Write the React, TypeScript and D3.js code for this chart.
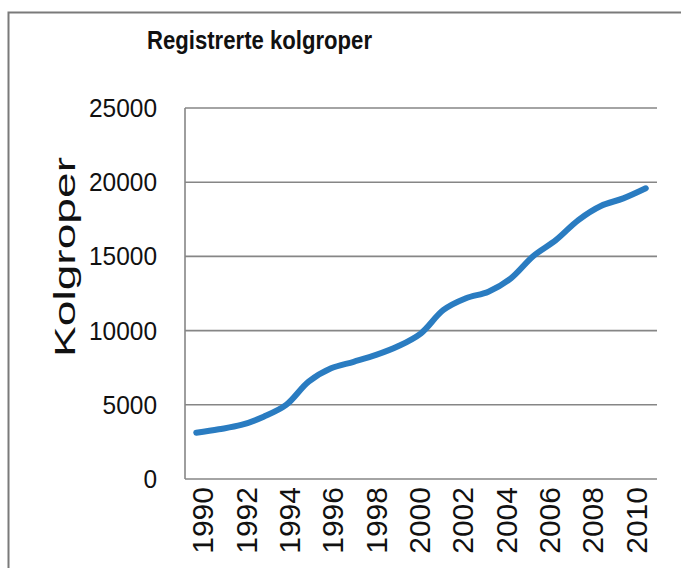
import React from "react";
import * as d3 from "d3";

const years: number[] = [
  1990, 1991, 1992, 1993, 1994, 1995, 1996, 1997, 1998, 1999, 2000,
  2001, 2002, 2003, 2004, 2005, 2006, 2007, 2008, 2009, 2010,
];
const kolgroper: number[] = [
  3120, 3350, 3640, 4200, 4990, 6560, 7460, 7900, 8360, 8960, 9820,
  11390, 12180, 12620, 13520, 15030, 16100, 17450, 18400, 18910, 19590,
];
const yTicks: number[] = [0, 5000, 10000, 15000, 20000, 25000];
const labelYears: number[] = [1990, 1992, 1994, 1996, 1998, 2000, 2002, 2004, 2006, 2008, 2010];
const title = "Registrerte kolgroper";
const yTitle = "Kolgroper";

const W = 681;
const H = 568;
const plot = { left: 185, right: 657, top: 108, bottom: 479 };

export default function App() {
  const x = d3
    .scaleBand<number>()
    .domain(years)
    .range([plot.left, plot.right])
    .paddingInner(0)
    .paddingOuter(0);
  const y = d3.scaleLinear().domain([0, 25000]).range([plot.bottom, plot.top]);
  const xLabel = d3.scalePoint<number>().domain(labelYears).range([202.5, 636]);

  const line = d3
    .line<number>()
    .x((_, i) => (x(years[i]) as number) + x.bandwidth() / 2)
    .y((d) => y(d))
    .curve(d3.curveCatmullRom.alpha(0.5));

  const grid = "#868686";
  const font = "'Liberation Sans', Arial, sans-serif";

  return (
    <svg
      width={W}
      height={H}
      style={{ position: "absolute", left: 0, top: 0, background: "#ffffff" }}
    >
      <rect x={0} y={0} width={W} height={H} fill="#ffffff" />
      {/* outer frame */}
      <path d={`M8.5,${H} V12.5 H${W}`} fill="none" stroke="#7a7a7a" strokeWidth={2} />

      <text
        x={147}
        y={49}
        fontFamily={font}
        fontWeight="bold"
        fontSize={25.5}
        fill="#111"
        textLength={225}
        lengthAdjust="spacingAndGlyphs"
      >
        {title}
      </text>

      {/* gridlines */}
      {yTicks.map((t) => (
        <line
          key={t}
          x1={plot.left}
          x2={plot.right}
          y1={y(t)}
          y2={y(t)}
          stroke={grid}
          strokeWidth={1.6}
        />
      ))}
      {/* y axis line */}
      <line
        x1={plot.left}
        x2={plot.left}
        y1={plot.top}
        y2={plot.bottom}
        stroke={grid}
        strokeWidth={1.6}
      />

      {/* y tick labels */}
      {yTicks.map((t) => (
        <text
          key={"l" + t}
          x={157}
          y={y(t)}
          dy="0.35em"
          textAnchor="end"
          fontFamily={font}
          fontSize={25.5}
          fill="#111"
          textLength={String(t).length * 13.6}
          lengthAdjust="spacingAndGlyphs"
        >
          {String(t)}
        </text>
      ))}

      {/* y title */}
      <text
        transform={`translate(75,257) rotate(-90)`}
        textAnchor="middle"
        fontFamily={font}
        fontSize={29}
        fill="#111"
        textLength={200}
        lengthAdjust="spacingAndGlyphs"
      >
        {yTitle}
      </text>

      {/* x labels */}
      {labelYears.map((yr) => (
        <text
          key={"x" + yr}
          transform={`translate(${(xLabel(yr) as number) + 10.8},487) rotate(-90)`}
          textAnchor="end"
          fontFamily={font}
          fontSize={30}
          fill="#111"
        >
          {String(yr)}
        </text>
      ))}

      {/* data line */}
      <path
        d={line(kolgroper) || ""}
        fill="none"
        stroke="#2a7cc1"
        strokeWidth={6}
        strokeLinecap="round"
        strokeLinejoin="round"
      />
    </svg>
  );
}
